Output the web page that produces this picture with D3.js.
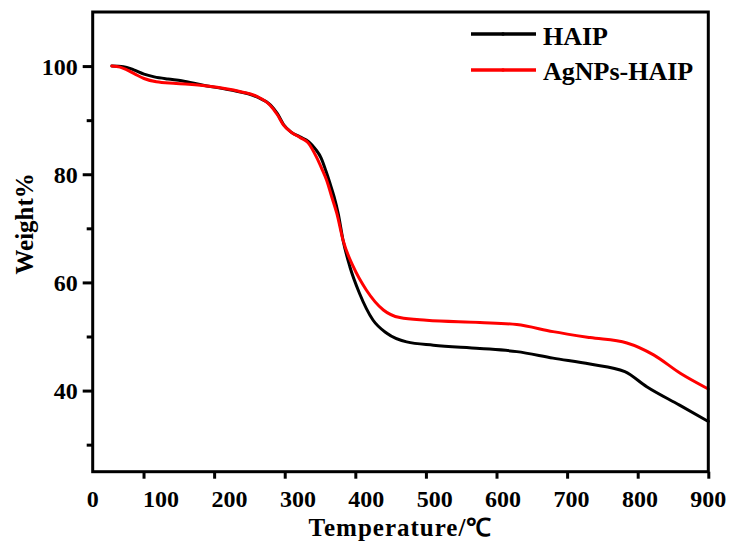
<!DOCTYPE html>
<html>
<head>
<meta charset="utf-8">
<script src="https://cdn.jsdelivr.net/npm/d3@7"></script>
<style>
  html, body { margin: 0; padding: 0; background: #fff; }
  svg { display: block; }
  text { font-family: "Liberation Serif", "Times New Roman", serif; font-weight: bold; fill: #000; }
</style>
</head>
<body>
<svg id="chart" width="733" height="545"></svg>
<script>
// TGA curves: temperature (°C) and residual weight (%)
const haipTemp = [28, 45, 60, 75, 90, 110, 130, 160, 200, 240, 260, 270, 279, 290, 303, 316, 326, 334, 341, 347, 353, 359, 366, 376, 390, 410, 430, 459, 498, 566, 620, 673, 727, 778, 810, 858, 900];
const haipWeight = [100, 99.9, 99.3, 98.5, 98.0, 97.6, 97.3, 96.5, 95.6, 94.3, 92.8, 91.2, 89.2, 87.8, 86.9, 86.0, 84.6, 83.0, 80.6, 78.3, 75.8, 72.7, 67.8, 62.9, 58.0, 53.0, 50.6, 49.0, 48.4, 47.8, 47.2, 46.0, 44.9, 43.5, 40.7, 37.3, 34.3];

const agTemp = [28, 40, 50, 62, 75, 93, 122, 167, 215, 240, 259, 270, 279, 290, 303, 315, 327, 335, 342, 350, 357, 366, 381, 400, 425, 449, 488, 566, 620, 673, 727, 781, 820, 859, 900];
const agWeight = [100, 99.8, 99.3, 98.5, 97.7, 97.1, 96.8, 96.3, 95.3, 94.4, 92.8, 91.0, 89.1, 87.8, 86.8, 85.8, 83.2, 81.0, 78.9, 75.6, 72.7, 67.8, 62.9, 58.6, 54.9, 53.5, 53.0, 52.6, 52.2, 50.9, 49.8, 48.8, 46.6, 43.2, 40.3];

const seriesNames = ["HAIP", "AgNPs-HAIP"];
const seriesColors = ["#000000", "#ff0000"];

const xLabelValues = [0, 100, 200, 300, 400, 500, 600, 700, 800, 900];
const xTickValues = [100, 200, 300, 400, 500, 600, 700, 800, 900];
const yMajorTicks = [40, 60, 80, 100];
const yMinorTicks = [30, 50, 70, 90];

const xTitle = "Temperature/℃";
const yTitle = "Weight%";

const svg = d3.select("#chart");
const plotLeft = 92.7, plotRight = 708.3, plotTop = 12, plotBottom = 471.7;

const x = d3.scaleLinear().domain([0, 900]).range([plotLeft, plotRight]);
// tick marks run on the instrument axis, which begins at the starting temperature
const xTick = d3.scaleLinear().domain([28, 900]).range([plotLeft, plotRight]);
const y = d3.scaleLinear().domain([25, 110]).range([plotBottom, plotTop]);

// curves
const line = d3.line().x(d => x(d[0])).y(d => y(d[1])).curve(d3.curveMonotoneX);
const series = [
  d3.zip(haipTemp, haipWeight),
  d3.zip(agTemp, agWeight)
];
svg.append("g").selectAll("path").data(series).join("path")
  .attr("d", line)
  .attr("fill", "none")
  .attr("stroke", (d, i) => seriesColors[i])
  .attr("stroke-width", 3)
  .attr("stroke-linejoin", "round")
  .attr("stroke-linecap", "round");

// bottom axis ticks
const xAxis = svg.append("g").attr("transform", `translate(0,${plotBottom})`)
  .call(d3.axisBottom(xTick).tickValues(xTickValues).tickSize(7).tickFormat(""));
xAxis.select(".domain").remove();
xAxis.selectAll(".tick line").attr("stroke-width", 3);

// bottom axis labels
svg.append("g").selectAll("text").data(xLabelValues).join("text")
  .attr("x", d => x(d))
  .attr("y", 507)
  .attr("text-anchor", "middle")
  .attr("font-size", 24)
  .text(d => d);

// left axis major and minor ticks
const yAxis = svg.append("g").attr("transform", `translate(${plotLeft},0)`)
  .call(d3.axisLeft(y).tickValues(yMajorTicks).tickSize(10).tickPadding(5));
yAxis.select(".domain").remove();
yAxis.selectAll(".tick line").attr("stroke-width", 3);
yAxis.selectAll(".tick text")
  .attr("font-size", 24)
  .attr("font-family", "Liberation Serif, Times New Roman, serif")
  .attr("font-weight", "bold")
  .attr("fill", "#000")
  .attr("dy", "0.34em");

const yMinor = svg.append("g").attr("transform", `translate(${plotLeft},0)`)
  .call(d3.axisLeft(y).tickValues(yMinorTicks).tickSize(6).tickFormat(""));
yMinor.select(".domain").remove();
yMinor.selectAll(".tick line").attr("stroke-width", 3);

// frame
svg.append("rect")
  .attr("x", plotLeft).attr("y", plotTop)
  .attr("width", plotRight - plotLeft).attr("height", plotBottom - plotTop)
  .attr("fill", "none")
  .attr("stroke", "#000")
  .attr("stroke-width", 3);

// axis titles
svg.append("text")
  .attr("x", (plotLeft + plotRight) / 2)
  .attr("y", 536)
  .attr("text-anchor", "middle")
  .attr("font-size", 25)
  .attr("letter-spacing", 1)
  .text(xTitle);

svg.append("text")
  .attr("transform", `translate(33,${(plotTop + plotBottom) / 2 - 18}) rotate(-90)`)
  .attr("text-anchor", "middle")
  .attr("font-size", 25)
  .text(yTitle);

// legend
const legend = svg.append("g");
const legendRows = legend.selectAll("g").data(seriesNames).join("g")
  .attr("transform", (d, i) => `translate(0,${i === 0 ? 34 : 70})`);
legendRows.append("line")
  .attr("x1", 471).attr("x2", 536)
  .attr("y1", 0).attr("y2", 0)
  .attr("stroke", (d, i) => seriesColors[i])
  .attr("stroke-width", 3.5);
legendRows.append("circle")
  .attr("cx", 503).attr("cy", 0).attr("r", 1.8)
  .attr("fill", (d, i) => seriesColors[i]);
legendRows.append("text")
  .attr("x", 543)
  .attr("y", (d, i) => i === 0 ? 11 : 9.5)
  .attr("font-size", 26)
  .text(d => d);
</script>
</body>
</html>
